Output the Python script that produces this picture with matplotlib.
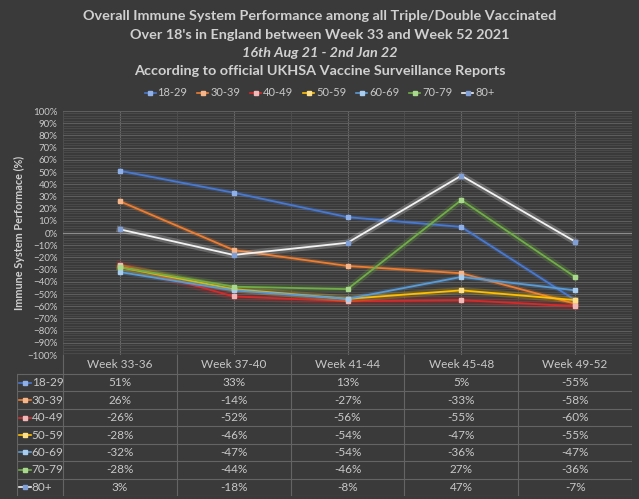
import matplotlib
matplotlib.use("Agg")
import matplotlib.pyplot as plt
import matplotlib.patheffects as pe
from matplotlib.lines import Line2D
from matplotlib.ticker import MultipleLocator, PercentFormatter

plt.rcParams['font.family'] = ['Lato', 'DejaVu Sans']

# data
weeks = ["Week 33-36", "Week 37-40", "Week 41-44", "Week 45-48", "Week 49-52"]
age_groups = ["18-29", "30-39", "40-49", "50-59", "60-69", "70-79", "80+"]
v_18_29 = [51, 33, 13, 5, -55]
v_30_39 = [26, -14, -27, -33, -58]
v_40_49 = [-26, -52, -56, -55, -60]
v_50_59 = [-28, -46, -54, -47, -55]
v_60_69 = [-32, -47, -54, -36, -47]
v_70_79 = [-28, -44, -46, 27, -36]
v_80_plus = [3, -18, -8, 47, -7]
series = [v_18_29, v_30_39, v_40_49, v_50_59, v_60_69, v_70_79, v_80_plus]

line_colors = ["#4878cf", "#ed7d31", "#d62a2a", "#ffc000", "#5b9bd5", "#70ad47", "#f2f2f2"]
marker_colors = ["#8fb0e8", "#f7b58a", "#f2b8b8", "#ffe08a", "#a9cdee", "#a9d98c", "#7f9fd6"]
glow = [2.0, 2.0, 4.5, 3.5, 2.0, 3.5, 3.5]

bg = "#3a3a3a"
txt = "#d0d0d0"
W, H = 639, 499

fig = plt.figure(figsize=(W / 100, H / 100), dpi=100, facecolor=bg)

# plot area in pixels: left 63, right 632, top 111, bottom 355
ax = fig.add_axes([63 / W, 1 - 355 / H, 569 / W, 244 / H])
ax.set_facecolor(bg)
x = list(range(len(weeks)))

ax.set_xlim(-0.5, len(weeks) - 0.5)
ax.set_ylim(-100, 100)
ax.yaxis.set_major_locator(MultipleLocator(10))
ax.yaxis.set_minor_locator(MultipleLocator(2))
ax.yaxis.set_major_formatter(PercentFormatter(decimals=0))
ax.grid(which="major", axis="y", color="#5e5e5e", linewidth=0.8)
ax.grid(which="minor", axis="y", color="#4c4c4c", linewidth=0.6)
for xi in x:
    ax.axvline(xi, color="#666666", linewidth=0.8, zorder=0.5)
for xb in range(len(weeks) + 1):
    ax.axvline(xb - 0.5, color="#4e4e4e", linewidth=0.7, zorder=0.5)
ax.axhline(0, color="#8c8c8c", linewidth=0.9, zorder=0.6)
ax.set_axisbelow(True)

for i, (name, vals) in enumerate(zip(age_groups, series)):
    ax.plot(x, vals, color=line_colors[i], linewidth=1.3, zorder=3 + i * 0.1,
            path_effects=[pe.Stroke(linewidth=1.3 + glow[i], foreground=line_colors[i], alpha=0.22),
                          pe.Normal()])
    ax.plot(x, vals, linestyle="none", marker="s", markersize=3,
            markerfacecolor=marker_colors[i], markeredgecolor=marker_colors[i],
            zorder=4 + i * 0.1)

ax.tick_params(axis="y", which="both", length=0, colors="#c8c8c8", labelsize=7, pad=4)
ax.tick_params(axis="x", which="both", length=0, labelbottom=False)
for s in ax.spines.values():
    s.set_visible(False)
ax.set_ylabel("Immune System Performace (%)", color=txt, fontsize=7.8, fontweight="bold", labelpad=2)

# titles
fig.text(0.5, 1 - 16 / H, "Overall Immune System Performance among all Triple/Double Vaccinated",
         ha="center", va="center", color=txt, fontsize=10.4, fontweight="bold")
fig.text(0.5, 1 - 35 / H, "Over 18's in England between Week 33 and Week 52 2021",
         ha="center", va="center", color=txt, fontsize=10.4, fontweight="bold")
fig.text(0.5, 1 - 53 / H, "16th Aug 21 - 2nd Jan 22",
         ha="center", va="center", color=txt, fontsize=10.4, fontweight="bold", style="italic")
fig.text(0.5, 1 - 71 / H, "According to official UKHSA Vaccine Surveillance Reports",
         ha="center", va="center", color=txt, fontsize=10.4, fontweight="bold")

handles = [Line2D([], [], color=line_colors[i], linewidth=1.2, marker="s", markersize=2.5,
                  markerfacecolor=marker_colors[i], markeredgecolor=marker_colors[i])
           for i in range(len(age_groups))]
fig.legend(handles, age_groups, loc="center", bbox_to_anchor=(0.5, 1 - 93 / H), ncol=7,
           frameon=False, fontsize=8, handlelength=1.0, handletextpad=0.15, columnspacing=0.9,
           labelcolor="#c8c8c8")

# data table under the plot, pixel rows 355..496
tab = fig.add_axes([17 / W, 1 - 496 / H, 615 / W, 141 / H])
tab.set_facecolor("none")
left_col = -0.5 - 46 / 113.8
tab.set_xlim(left_col, len(weeks) - 0.5)
tab.set_ylim(496, 355)
tab.axis("off")
line_c = "#646464"
head_bot = 374
row_h = (496 - head_bot) / len(age_groups)

# header row
for j, w in enumerate(weeks):
    tab.text(j, (355 + head_bot) / 2, w, ha="center", va="center", color="#c8c8c8", fontsize=8.5)
for xb in range(len(weeks) + 1):
    tab.plot([xb - 0.5, xb - 0.5], [355, 496], color=line_c, linewidth=0.8)
tab.plot([left_col, left_col], [head_bot, 496], color=line_c, linewidth=0.8)
tab.plot([left_col, len(weeks) - 0.5], [496, 496], color=line_c, linewidth=0.8)

for i, (name, vals) in enumerate(zip(age_groups, series)):
    top = head_bot + i * row_h
    yc = top + row_h / 2
    tab.plot([left_col, len(weeks) - 0.5], [top, top], color=line_c, linewidth=0.8)
    tab.plot([left_col + 0.02, left_col + 0.12], [yc, yc], color=line_colors[i], linewidth=1.2)
    tab.plot([left_col + 0.07], [yc], marker="s", markersize=2.5, color=marker_colors[i])
    tab.text(left_col + 0.13, yc, name, ha="left", va="center", color="#c8c8c8", fontsize=8.5)
    for j, v in enumerate(vals):
        tab.text(j, yc, f"{v}%", ha="center", va="center", color="#c8c8c8", fontsize=8.5)

fig.savefig("out.png", dpi=100, facecolor=bg)
